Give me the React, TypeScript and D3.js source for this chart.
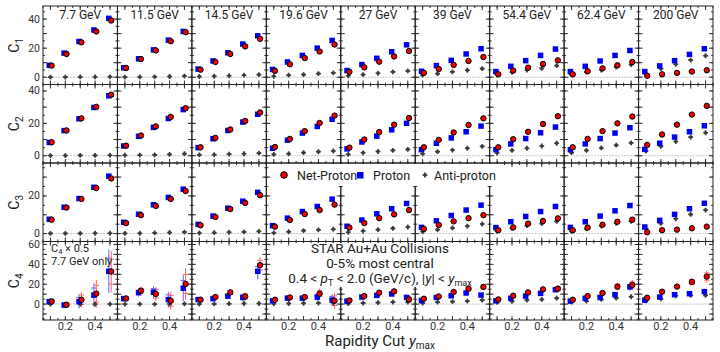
import * as d3 from 'd3'

// beam energies (one panel per column) and rapidity cuts
const energies = ['7.7 GeV', '11.5 GeV', '14.5 GeV', '19.6 GeV', '27 GeV', '39 GeV', '54.4 GeV', '62.4 GeV', '200 GeV']
const yCuts = [0.1, 0.2, 0.3, 0.4, 0.5]

// C1
const c1Net = [[8, 16, 24, 31.5, 39], [6.4, 12.5, 18.4, 24.8, 31], [5.2, 10.5, 16, 21.2, 26.4], [4.4, 8.9, 13.2, 17.7, 22.5], [3.7, 6.8, 10.7, 14.3, 18], [3, 5.7, 8.5, 11.2, 13.9], [2, 4.6, 6.6, 9.1, 11.6], [2, 4.1, 6.1, 8.2, 10.5], [1, 2, 3, 3.9, 4.8]]
const c1Pro = [[8.2, 16.6, 24.6, 32.5, 40.5], [6.5, 12.7, 18.8, 25.5, 31.5], [5.6, 11.2, 16.8, 22.8, 28.5], [5.3, 10.5, 15, 20, 25.3], [4.6, 8.7, 13, 17.5, 22.3], [4.1, 8, 11.6, 16, 19.6], [3.9, 7.5, 11.4, 15, 19.4], [3.9, 7.5, 11.2, 15, 18.4], [3.9, 7.8, 11.4, 15.7, 19.6]]
const c1Anti = [[0.1, 0.1, 0.2, 0.2, 0.3], [0.1, 0.2, 0.3, 0.5, 0.8], [0.5, 0.7, 1, 1.4, 1.8], [0.7, 1.4, 1.8, 2.5, 3], [1, 1.8, 2.7, 3.7, 4.4], [1.4, 2.5, 3.7, 4.8, 5.9], [1.7, 3.4, 5, 6.1, 8], [1.7, 3.5, 5, 7, 8.7], [2.5, 5.9, 8.9, 11.8, 14.8]]

// C2
const c2Net = [[8.3, 15.6, 23.1, 30.2, 37.7], [6.2, 12.5, 18.1, 24, 29.4], [5.2, 11, 16.2, 21.5, 26.7], [5.4, 10.4, 15.2, 20.2, 24.8], [5, 10, 14.6, 19.2, 23.3], [5.2, 9.8, 14.4, 19, 23.1], [5.2, 10.2, 14.8, 19.6, 24.4], [5.2, 10.4, 15.2, 20, 24.2], [6.7, 13.1, 19.2, 25.4, 30.8]]
const c2Pro = [[8.2, 15.5, 22.8, 29.8, 37], [6, 12, 17.5, 23, 28.5], [5, 10.5, 15.6, 20.8, 25.6], [4.6, 9.6, 14, 18.1, 22.5], [4.2, 8.5, 12.1, 16, 20], [3.75, 7.7, 11, 14.8, 18.3], [3.75, 7.3, 10.6, 14.2, 17.7], [3.75, 7.3, 10.6, 14, 17.3], [3.9, 7.7, 11.5, 14.8, 18.5]]
const c2Anti = [[0.1, 0.1, 0.2, 0.2, 0.3], [0.3, 0.4, 0.5, 0.8, 1.2], [0.5, 0.6, 1, 1.2, 1.6], [0.8, 1.2, 1.9, 2.5, 2.9], [0.8, 1.8, 2.6, 3.3, 3.9], [1.2, 2.5, 3.5, 4.6, 5.8], [1.7, 3.3, 4.6, 6, 7.7], [1.9, 3.3, 4.8, 6.5, 7.9], [2.9, 5.8, 8.75, 11.5, 14.2]]

// C3
const c3Net = [[7.4, 13.8, 18.4, 24.2, 29.3], [5.6, 9.8, 14.7, 18.4, 22.6], [4.4, 8.8, 13, 16.3, 20.4], [3.7, 7.2, 10.4, 12.5, 15.4], [3.2, 5.6, 8.2, 10.2, 12.5], [2.5, 4.6, 6.5, 8.2, 9.8], [1.8, 3.3, 5.3, 6.7, 8.1], [1.8, 3.2, 4.7, 6.3, 7.4], [0.7, 1.8, 2.1, 2.8, 3.7]]
const c3Pro = [[7.6, 14, 18.6, 24.6, 30.5], [6, 10.3, 15.3, 19.2, 23.6], [4.9, 9.3, 13.5, 17.2, 21.9], [4.2, 8.2, 11.7, 14.4, 18.3], [3.9, 7.2, 10.5, 13.2, 16], [3.3, 6.8, 9.6, 12.5, 15.1], [3.2, 6.3, 9.1, 11.7, 14.4], [3.3, 6.3, 9.3, 12.1, 14.9], [3.5, 7, 10.2, 13.2, 16.1]]
const c3Anti = [[0.1, 0.1, 0.1, 0.2, 0.2], [0.1, 0.2, 0.4, 0.6, 0.8], [0.3, 0.5, 0.7, 0.9, 1.2], [0.4, 1, 1.6, 2, 2.3], [0.7, 1.4, 2.1, 2.8, 3.5], [1, 2.1, 3, 4, 5.1], [1.2, 2.8, 4.2, 5.3, 6.5], [1.2, 2.5, 4, 5.5, 6.5], [2.6, 5.4, 7.9, 10.2, 12.5]]

// C4 (7.7 GeV scaled by 0.5)
const c4Net = [[2.7, -0.7, 4.4, 10.5, 32.8], [5.7, 13.5, 10.2, 3.4, 20.3], [4.4, 7.1, 11.8, 7.7, 39.2], [4.4, 6.7, 7.1, 10.5, 3.4], [3.7, 8.1, 11.5, 12.8, 4.7], [5.4, 7.7, 12.2, 15.5, 17.3], [4.7, 8.4, 11.8, 14.8, 15.5], [4.4, 8.1, 11.2, 17.6, 19.3], [6.4, 12.5, 17.6, 22.3, 27.7]]
const c4Pro = [[2.5, -1, 2.5, 9, 33], [5.5, 11.5, 12, 4.5, 16], [4.5, 5.5, 8, 6.7, 33], [3.3, 6, 6, 7, 4], [3, 7.1, 8.8, 10.2, 6.7], [3.7, 6.7, 8.4, 11.2, 9.1], [3.3, 5.8, 8.1, 10.8, 14.5], [3, 5.8, 6.7, 9.5, 17.3], [4, 7.1, 9.5, 10.5, 12.5]]
const c4Anti = [[0, 0, 0, 0, 0], [0, 0, 0, 0.2, 0.3], [0, 0.2, 0.4, 0.6, 0.6], [0.3, 0.6, 0.8, 1, 1.2], [0.5, 1, 1.5, 2, 2], [1, 2, 2.5, 3, 4], [1.7, 2.7, 4, 4.7, 6], [2, 3, 4.7, 6, 7.4], [3.4, 5.4, 8.4, 8.8, 8.8]]
const c4NetErr = [[3, 3, 8, 14, 21], [2, 4, 7, 9, 16], [1.5, 2, 3, 4, 8], [1, 1.5, 2, 5, 8], [1, 1.5, 2, 3, 4], [1, 1, 1.5, 2, 3], [1, 1, 1.5, 2, 3], [1, 1, 1.5, 4, 5], [1, 1.5, 2, 4, 6]]
const c4ProErr = [[3, 3, 7, 12, 22], [2, 4, 6, 8, 13], [1.5, 2, 3, 4, 8], [1, 1.5, 2, 4, 6], [0.8, 1, 1.5, 2.5, 3], [0.8, 1, 1, 1.5, 2], [0.8, 1, 1, 1.5, 2], [0.8, 1, 1, 1.5, 4], [0.8, 1, 1, 1.5, 3]]

const rows = [
  { order: '1', net: c1Net, pro: c1Pro, anti: c1Anti, dom: [-5, 49], labels: [0, 20, 40] },
  { order: '2', net: c2Net, pro: c2Pro, anti: c2Anti, dom: [-4.5, 44], labels: [0, 20, 40] },
  { order: '3', net: c3Net, pro: c3Pro, anti: c3Anti, dom: [-4.2, 37.5], labels: [0, 20] },
  { order: '4', net: c4Net, pro: c4Pro, anti: c4Anti, dom: [-16, 63], labels: [0, 20, 40, 60], netErr: c4NetErr, proErr: c4ProErr },
]

const W = 720
const H = 352
const left = 43
const right = 713
const top = 6
const bottom = 320
const pw = (right - left) / energies.length
const ph = (bottom - top) / rows.length
const font = 'Roboto, "Noto Sans", sans-serif'

const RED = '#ee0000'
const BLUE = '#0000f0'
const GREY = '#3c3c3c'

const crossPath = d3.symbol(d3.symbolCross, 13)()

const AntiMark = ({ x, y }) => (
  <g transform={`translate(${x},${y})`} fill={GREY}>
    <path d={crossPath} />
    <circle r={1.7} />
  </g>
)

const Panel = ({ row, r, c }) => {
  const x0 = left + c * pw
  const y0 = top + r * ph
  const x = d3.scaleLinear().domain([0.05, 0.55]).range([x0, x0 + pw])
  const y = d3.scaleLinear().domain(row.dom).range([y0 + ph, y0])
  const xMajor = d3.range(0.1, 0.55, 0.1)
  const xMinor = d3.range(0.05, 0.56, 0.05)
  const yMajor = d3.range(Math.ceil(row.dom[0] / 10) * 10, row.dom[1], 10)
  const yMinor = d3.range(Math.ceil(row.dom[0] / 5) * 5, row.dom[1], 5)

  return (
    <g>
      {/* zero line */}
      <line x1={x0} x2={x0 + pw} y1={y(0)} y2={y(0)} stroke="#c4c4c4" strokeDasharray="2,1" />
      {/* ticks */}
      {xMinor.map((t, i) => (
        <g key={'xm' + i} stroke="#333">
          <line x1={x(t)} x2={x(t)} y1={y0 + ph} y2={y0 + ph - 2} />
          <line x1={x(t)} x2={x(t)} y1={y0} y2={y0 + 2} />
        </g>
      ))}
      {xMajor.map((t, i) => (
        <g key={'xM' + i} stroke="#333">
          <line x1={x(t)} x2={x(t)} y1={y0 + ph} y2={y0 + ph - 4} />
          <line x1={x(t)} x2={x(t)} y1={y0} y2={y0 + 4} />
        </g>
      ))}
      {yMinor.map((t, i) => (
        <g key={'ym' + i} stroke="#333">
          <line x1={x0} x2={x0 + 2} y1={y(t)} y2={y(t)} />
          <line x1={x0 + pw} x2={x0 + pw - 2} y1={y(t)} y2={y(t)} />
        </g>
      ))}
      {yMajor.map((t, i) => (
        <g key={'yM' + i} stroke="#333">
          <line x1={x0} x2={x0 + 4} y1={y(t)} y2={y(t)} />
          <line x1={x0 + pw} x2={x0 + pw - 4} y1={y(t)} y2={y(t)} />
        </g>
      ))}
      {/* frame */}
      <rect x={x0} y={y0} width={pw} height={ph} fill="none" stroke="#222" strokeWidth={1} />
      {/* x tick labels */}
      {r === rows.length - 1 && [0.2, 0.4].map(t => (
        <text key={'xl' + t} x={x(t)} y={bottom + 10} textAnchor="middle" fontSize={11} fill="#333">{t.toFixed(1)}</text>
      ))}
      {/* y tick labels */}
      {c === 0 && row.labels.map(t => (
        <text key={'yl' + t} x={x0 - 3} y={y(t) + 3.5} textAnchor="end" fontSize={10.5} fill="#333">{t}</text>
      ))}
      {/* energy label */}
      {r === 0 && (
        <text x={x0 + pw / 2} y={y0 + 13} textAnchor="middle" fontSize={12} fill="#222">{energies[c]}</text>
      )}
    </g>
  )
}

const Marks = ({ row, r, c }) => {
  const x0 = left + c * pw
  const y0 = top + r * ph
  const x = d3.scaleLinear().domain([0.05, 0.55]).range([x0, x0 + pw])
  const y = d3.scaleLinear().domain(row.dom).range([y0 + ph, y0])
  return (
    <g>
      {row.proErr && yCuts.map((v, i) => (
        <g key={'pe' + i} stroke="#6464ff" strokeWidth={1}>
          <line x1={x(v) - 1.2} x2={x(v) - 1.2} y1={y(row.pro[c][i] - row.proErr[c][i])} y2={y(row.pro[c][i] + row.proErr[c][i])} />
          <line x1={x(v) - 4} x2={x(v) + 1.6} y1={y(row.pro[c][i] + row.proErr[c][i] * 0.6)} y2={y(row.pro[c][i] + row.proErr[c][i] * 0.6)} />
        </g>
      ))}
      {row.netErr && yCuts.map((v, i) => (
        <g key={'ne' + i} stroke="#ff6060" strokeWidth={1}>
          <line x1={x(v) + 1.2} x2={x(v) + 1.2} y1={y(row.net[c][i] - row.netErr[c][i])} y2={y(row.net[c][i] + row.netErr[c][i])} />
          <line x1={x(v) - 1.6} x2={x(v) + 4} y1={y(row.net[c][i] - row.netErr[c][i] * 0.6)} y2={y(row.net[c][i] - row.netErr[c][i] * 0.6)} />
          <line x1={x(v) - 1.6} x2={x(v) + 4} y1={y(row.net[c][i] + row.netErr[c][i] * 0.6)} y2={y(row.net[c][i] + row.netErr[c][i] * 0.6)} />
        </g>
      ))}
      {yCuts.map((v, i) => <AntiMark key={'a' + i} x={x(v)} y={y(row.anti[c][i])} />)}
      {yCuts.map((v, i) => (
        <rect key={'p' + i} x={x(v) - 1.2 - 2.75} y={y(row.pro[c][i]) - 2.75} width={5.5} height={5.5} fill={BLUE} />
      ))}
      {yCuts.map((v, i) => (
        <circle key={'n' + i} cx={x(v) + 1.2} cy={y(row.net[c][i])} r={2.7} fill={RED} stroke="#000" strokeWidth={1} />
      ))}
    </g>
  )
}

export default function App() {
  return (
    <svg width={W} height={H} style={{ position: 'absolute', left: 0, top: 0, background: '#fff' }} fontFamily={font}>
      {rows.map((row, r) => energies.map((e, c) => <Panel key={r + '-' + c} row={row} r={r} c={c} />))}

      {/* white boxes behind legend and info text */}
      <rect x={273} y={164} width={225} height={22} fill="#fff" />
      <rect x={290} y={243} width={185} height={44} fill="#fff" />

      {rows.map((row, r) => energies.map((e, c) => <Marks key={'m' + r + '-' + c} row={row} r={r} c={c} />))}

      {/* row titles */}
      {rows.map((row, r) => (
        <text key={'t' + r} transform={`translate(19,${top + r * ph + ph / 2}) rotate(-90)`} textAnchor="middle" fontSize={14} fill="#222">
          C<tspan fontSize={10} dy={4}>{row.order}</tspan>
        </text>
      ))}

      {/* legend */}
      <circle cx={284} cy={175} r={3.3} fill={RED} stroke="#000" />
      <text x={297} y={179.5} fontSize={12.5} fill="#222">Net-Proton</text>
      <rect x={357} y={172} width={6.5} height={6.5} fill={BLUE} />
      <text x={373} y={179.5} fontSize={12.5} fill="#222">Proton</text>
      <AntiMark x={425} y={175} />
      <text x={434} y={179.5} fontSize={12.5} fill="#222">Anti-proton</text>

      {/* C4 note */}
      <text x={51} y={252} fontSize={11} fill="#222">C<tspan fontSize={7.5} dy={2}>4</tspan><tspan dy={-2}> × 0.5</tspan></text>
      <text x={51} y={265} fontSize={11} fill="#222">7.7 GeV only</text>

      {/* info */}
      <text x={380} y={253} textAnchor="middle" fontSize={13.5} fill="#222">STAR Au+Au Collisions</text>
      <text x={380} y={268} textAnchor="middle" fontSize={13.5} fill="#222">0-5% most central</text>
      <text x={380} y={283} textAnchor="middle" fontSize={13.5} fill="#222">
        0.4 &lt; <tspan fontStyle="italic">p</tspan><tspan fontSize={9} dy={3}>T</tspan><tspan dy={-3}> &lt; 2.0 (GeV/c), |</tspan><tspan fontStyle="italic">y</tspan>| &lt; <tspan fontStyle="italic">y</tspan><tspan fontSize={9} dy={3}>max</tspan>
      </text>

      {/* x title */}
      <text x={380} y={346} textAnchor="middle" fontSize={15} fill="#222">
        Rapidity Cut <tspan fontStyle="italic">y</tspan><tspan fontSize={10} dy={3}>max</tspan>
      </text>
    </svg>
  )
}
